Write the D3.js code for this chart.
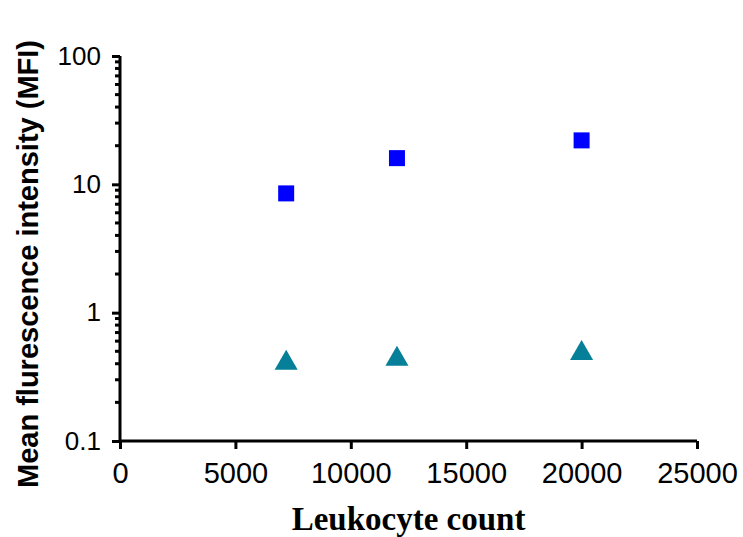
<!DOCTYPE html>
<html>
<head>
<meta charset="utf-8">
<script src="https://cdn.jsdelivr.net/npm/d3@7/dist/d3.min.js"></script>
<style>
  body { margin: 0; background: #fff; }
</style>
</head>
<body>
<div id="plot"></div>
<script>
'use strict';

const leukocytes = [7200, 12000, 20000]
const squareMfi = [8.5, 16, 22]
const triangleMfi = [0.42, 0.45, 0.5]
const xTicks = [0, 5000, 10000, 15000, 20000, 25000]
const yTicks = [0.1, 1, 10, 100]
const yTickLabels = ['0.1', '1', '10', '100']

const width = 743
const height = 537
const margin = {left: 120, right: 46, top: 56, bottom: 96}

let svg = d3.select('#plot').append('svg')
  .attr('width', width)
  .attr('height', height)

let x = d3.scaleLinear()
  .domain([0, 25000])
  .range([margin.left, width - margin.right])
let y = d3.scaleLog()
  .domain([0.1, 100])
  .range([height - margin.bottom, margin.top])

// minor ticks on the log axis
let minor = []
for (let d = 0.1; d < 100; d *= 10)
  for (let k = 2; k <= 9; k++) minor.push(+(d * k).toPrecision(2))

let x_axis = d3.axisBottom(x)
  .tickValues(xTicks)
  .tickFormat(d => d)
  .tickSize(8)
  .tickPadding(13)
let y_axis = d3.axisLeft(y)
  .tickValues(yTicks)
  .tickFormat((d, i) => yTickLabels[i])
  .tickSize(8)
  .tickPadding(11)

let gx = svg.append('g')
  .attr('transform', `translate(0, ${height - margin.bottom})`)
  .call(x_axis)
let gy = svg.append('g')
  .attr('transform', `translate(${margin.left}, 0)`)
  .call(y_axis)

gy.selectAll('.minor')
  .data(minor)
  .enter()
  .append('line')
  .attr('class', 'minor')
  .attr('x1', -5)
  .attr('x2', 0)
  .attr('y1', d => y(d))
  .attr('y2', d => y(d))
  .attr('stroke', '#000')
  .attr('stroke-width', 3)

for (let g of [gx, gy]) {
  g.selectAll('.tick line').attr('stroke-width', 3)
  g.selectAll('text')
    .attr('font-family', 'Liberation Sans, Arial, sans-serif')
    .attr('fill', '#000')
}
gx.selectAll('text').attr('font-size', '29px')
gy.selectAll('text').attr('font-size', '26px')
gx.select('.domain').attr('stroke-width', 3).attr('d', `M${x(0)},0H${x(25000)}`)
gy.select('.domain').attr('stroke-width', 3).attr('d', `M0,${y(100)}V${y(0.1)}`)

svg.append('g')
  .selectAll('rect')
  .data(leukocytes)
  .enter()
  .append('rect')
  .attr('x', d => x(d) - 8)
  .attr('y', (d, i) => y(squareMfi[i]) - 8)
  .attr('width', 16)
  .attr('height', 16)
  .attr('fill', '#0000ff')

let tri = d3.symbol().type(d3.symbolTriangle).size(230)
svg.append('g')
  .selectAll('path')
  .data(leukocytes)
  .enter()
  .append('path')
  .attr('d', tri)
  .attr('transform', (d, i) => `translate(${x(d)}, ${y(triangleMfi[i]) + 2})`)
  .attr('fill', '#067f99')

svg.append('text')
  .attr('x', (x(0) + x(25000)) / 2)
  .attr('y', 530)
  .attr('text-anchor', 'middle')
  .attr('font-family', 'Liberation Serif, Times New Roman, serif')
  .attr('font-weight', 'bold')
  .attr('font-size', '33px')
  .text('Leukocyte count')

svg.append('text')
  .attr('transform', `translate(38, 264) rotate(-90)`)
  .attr('text-anchor', 'middle')
  .attr('font-family', 'Liberation Sans, Arial, sans-serif')
  .attr('font-weight', 'bold')
  .attr('font-size', '29px')
  .text('Mean flurescence intensity (MFI)')
</script>
</body>
</html>
